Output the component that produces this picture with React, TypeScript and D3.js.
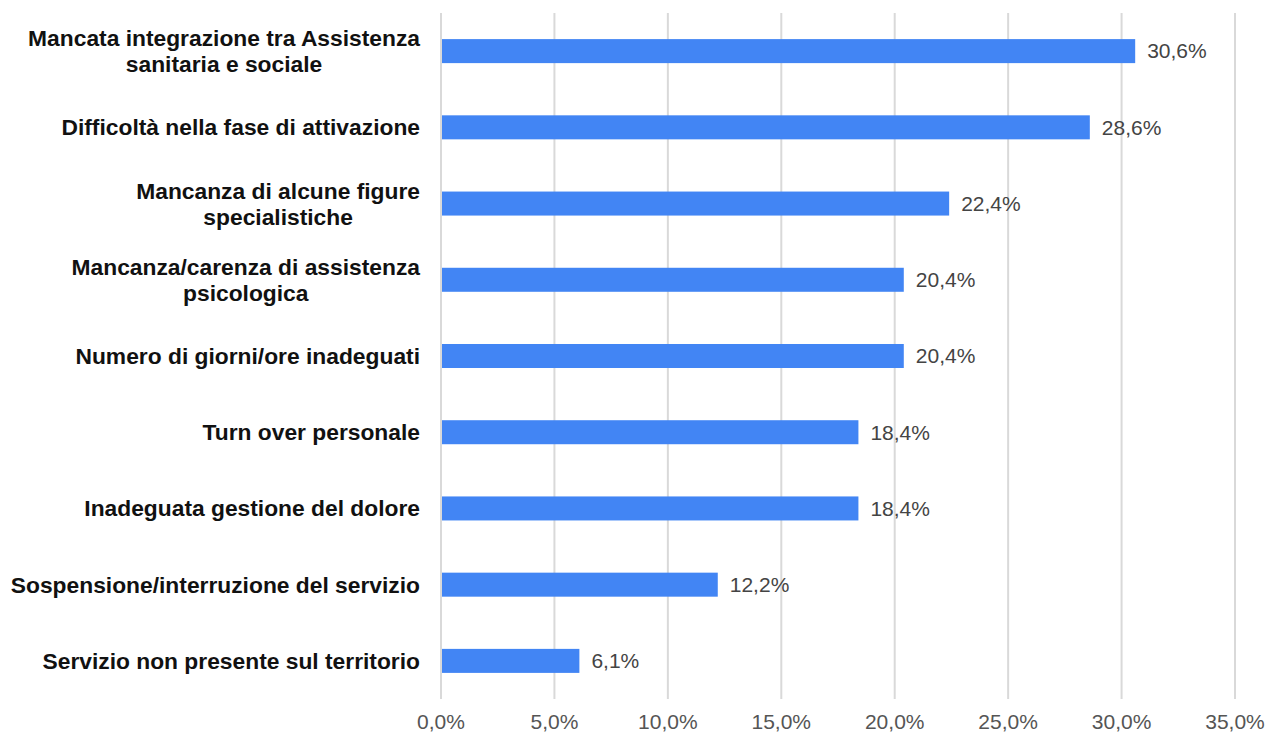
import React, { useEffect, useRef } from "react";
import * as d3 from "d3";

const categories: string[] = [
  "Mancata integrazione tra Assistenza\nsanitaria e sociale",
  "Difficoltà nella fase di attivazione",
  "Mancanza di alcune figure\nspecialistiche",
  "Mancanza/carenza di assistenza\npsicologica",
  "Numero di giorni/ore inadeguati",
  "Turn over personale",
  "Inadeguata gestione del dolore",
  "Sospensione/interruzione del servizio",
  "Servizio non presente sul territorio",
];
const values: number[] = [30.6, 28.6, 22.4, 20.4, 20.4, 18.4, 18.4, 12.2, 6.1];
const ticks: number[] = [0, 5, 10, 15, 20, 25, 30, 35];

const W = 1266;
const H = 733;
const M = { left: 441, right: 31, top: 13, bottom: 34 };
const FONT = "'Liberation Sans', Arial, sans-serif";

const fmt = (v: number) => v.toFixed(1).replace(".", ",") + "%";

export default function App() {
  const ref = useRef<SVGSVGElement>(null);

  useEffect(() => {
    const svg = d3.select(ref.current);
    svg.selectAll("*").remove();

    const x = d3.scaleLinear().domain([0, 35]).range([M.left, W - M.right]);
    const y = d3
      .scaleBand<string>()
      .domain(categories)
      .range([M.top, H - M.bottom])
      .paddingInner(0.685)
      .paddingOuter(0.3425);

    // gridlines
    svg
      .append("g")
      .selectAll("line")
      .data(ticks)
      .join("line")
      .attr("x1", (d) => x(d))
      .attr("x2", (d) => x(d))
      .attr("y1", M.top)
      .attr("y2", H - M.bottom)
      .attr("stroke", "#d9d9d9")
      .attr("stroke-width", 2);

    // tick labels
    svg
      .append("g")
      .selectAll("text")
      .data(ticks)
      .join("text")
      .attr("x", (d) => x(d))
      .attr("y", 729)
      .attr("text-anchor", "middle")
      .attr("font-family", FONT)
      .attr("font-size", 21)
      .attr("fill", "#555")
      .text((d) => fmt(d));

    const bandMid = (c: string) => (y(c) as number) + y.bandwidth() / 2;

    // bars
    svg
      .append("g")
      .selectAll("rect")
      .data(values)
      .join("rect")
      .attr("x", x(0) + 1)
      .attr("y", (_, i) => y(categories[i]) as number)
      .attr("width", (d) => x(d) - x(0) - 1)
      .attr("height", y.bandwidth())
      .attr("fill", "#4285f4");

    // value labels
    svg
      .append("g")
      .selectAll("text")
      .data(values)
      .join("text")
      .attr("x", (d) => x(d) + 12)
      .attr("y", (_, i) => bandMid(categories[i]))
      .attr("dy", "0.35em")
      .attr("font-family", FONT)
      .attr("font-size", 21)
      .attr("fill", "#444")
      .text((d) => fmt(d));

    // category labels
    const rightEdge = M.left - 21;
    const lineH = 26;
    const g = svg.append("g");
    categories.forEach((c) => {
      const lines = c.split("\n");
      const t = g
        .append("text")
        .attr("font-family", FONT)
        .attr("font-size", 22.8)
        .attr("font-weight", "bold")
        .attr("fill", "#111");
      const spans = lines.map((ln, k) =>
        t
          .append("tspan")
          .attr("y", bandMid(c) + (k - (lines.length - 1) / 2) * lineH)
          .attr("dy", "0.35em")
          .text(ln)
      );
      const widths = spans.map((s) => (s.node() as SVGTSpanElement).getComputedTextLength());
      const maxW = Math.max(...widths);
      const center = rightEdge - maxW / 2;
      spans.forEach((s) => s.attr("x", center).attr("text-anchor", "middle"));
    });
  }, []);

  return (
    <svg
      ref={ref}
      width={W}
      height={H}
      style={{ display: "block", background: "#fff", position: "absolute", left: 0, top: 0 }}
    />
  );
}
